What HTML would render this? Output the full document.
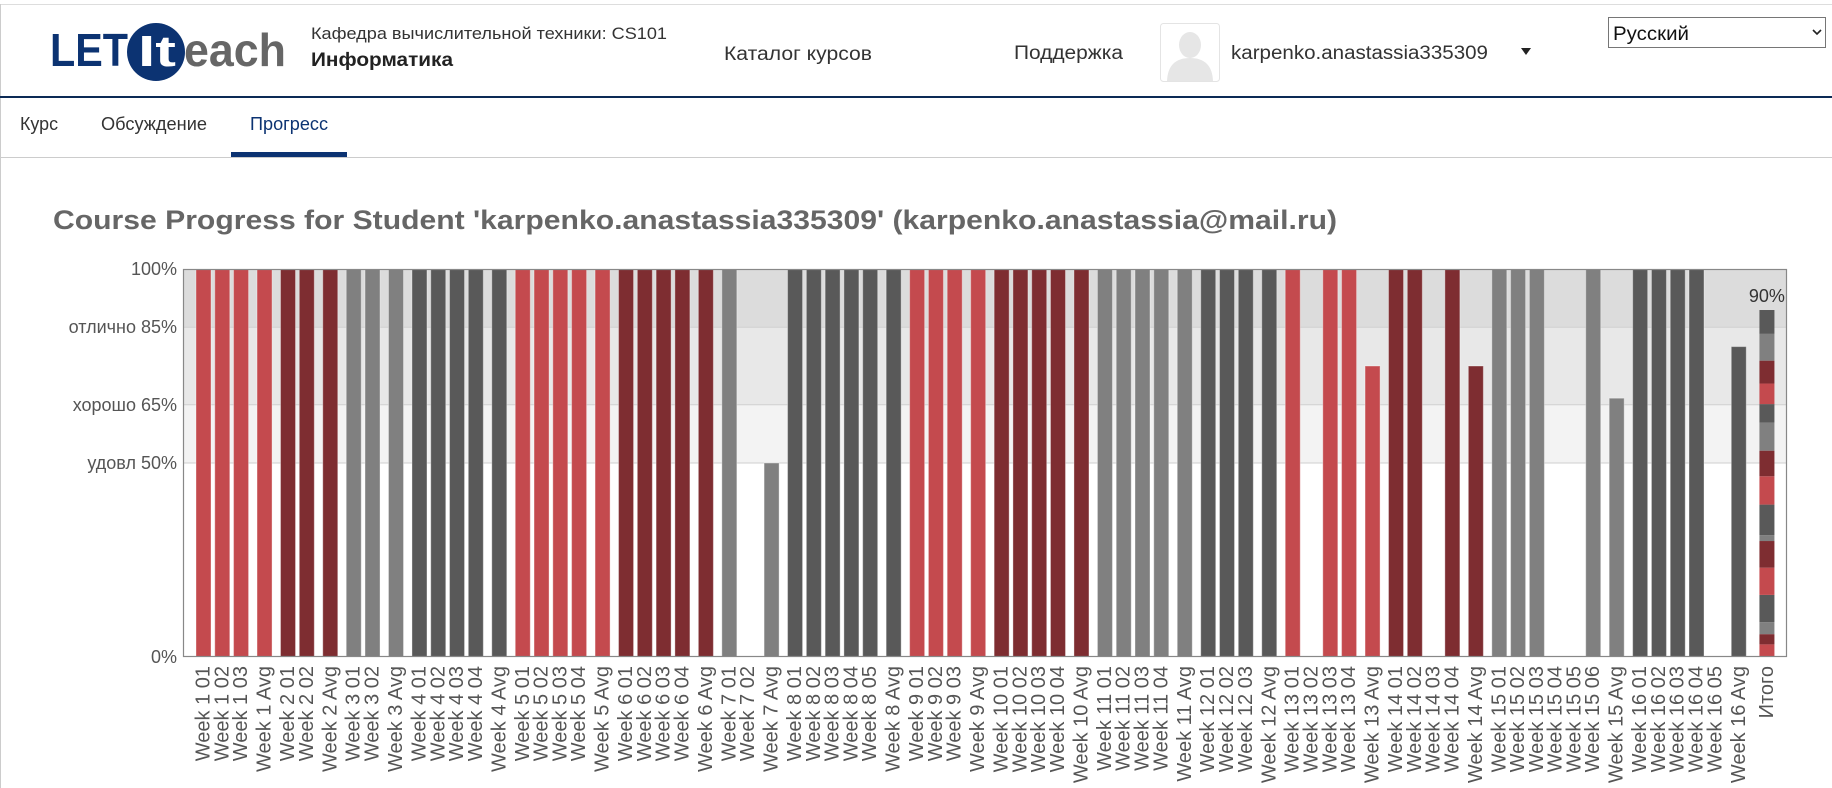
<!DOCTYPE html>
<html><head><meta charset="utf-8"><style>
html,body{margin:0;padding:0;background:#fff;width:1832px;height:788px;overflow:hidden}
svg{display:block;font-family:"Liberation Sans","Noto Sans CJK SC",sans-serif}
</style></head><body>
<svg id="s" width="1832" height="788" viewBox="0 0 1832 788" xmlns="http://www.w3.org/2000/svg">
<rect x="0" y="0" width="1832" height="788" fill="#fff"/>
<line x1="0" y1="4.5" x2="1832" y2="4.5" stroke="#ddd"/>
<line x1="0.5" y1="4" x2="0.5" y2="788" stroke="#ccc"/>
<g>
<text x="50" y="66" font-size="46" font-weight="bold" fill="#0c3372" textLength="78" lengthAdjust="spacingAndGlyphs">LET</text>
<circle cx="156" cy="52" r="29" fill="#0c3372"/>
<text x="138" y="66" font-size="44" font-weight="bold" fill="#fff" textLength="38" lengthAdjust="spacingAndGlyphs">It</text>
<text x="184" y="66" font-size="46" font-weight="bold" fill="#666" textLength="102" lengthAdjust="spacingAndGlyphs">each</text>
</g>
<text x="311" y="39" font-size="17" fill="#333" textLength="356" lengthAdjust="spacingAndGlyphs">Кафедра вычислительной техники: CS101</text>
<text x="311" y="66" font-size="19" font-weight="bold" fill="#222" textLength="142" lengthAdjust="spacingAndGlyphs">Информатика</text>
<text x="724" y="60" font-size="19" fill="#333" textLength="148" lengthAdjust="spacingAndGlyphs">Каталог курсов</text>
<text x="1014" y="59" font-size="19" fill="#333" textLength="109" lengthAdjust="spacingAndGlyphs">Поддержка</text>
<g>
<rect x="1160.5" y="23.5" width="59" height="58" rx="3" fill="#fff" stroke="#e4e4e4"/>
<ellipse cx="1190" cy="45" rx="11" ry="13" fill="#e6e6e6"/>
<path d="M1167 81 Q1168 58 1190 58 Q1212 58 1213 81 Z" fill="#e6e6e6"/>
</g>
<text x="1231" y="59" font-size="19" fill="#333" textLength="257" lengthAdjust="spacingAndGlyphs">karpenko.anastassia335309</text>
<path d="M1521 48 L1531 48 L1526 55 Z" fill="#222"/>
<g>
<rect x="1608.5" y="17.5" width="217" height="30" fill="#fff" stroke="#767676"/>
<text x="1613" y="40" font-size="19" fill="#111" textLength="76" lengthAdjust="spacingAndGlyphs">Русский</text>
<path d="M1813 30 L1817 34 L1821 30" fill="none" stroke="#222" stroke-width="1.6"/>
</g>
<rect x="0" y="96" width="1832" height="2" fill="#0c2a55"/>
<text x="20" y="130" font-size="18" fill="#333" textLength="38" lengthAdjust="spacingAndGlyphs">Курс</text>
<text x="101" y="130" font-size="18" fill="#333" textLength="106" lengthAdjust="spacingAndGlyphs">Обсуждение</text>
<text x="250" y="130" font-size="18" fill="#0c3372" textLength="78" lengthAdjust="spacingAndGlyphs">Прогресс</text>
<line x1="0" y1="157.5" x2="1832" y2="157.5" stroke="#ccc"/>
<rect x="231" y="152" width="116" height="5" fill="#0c3372"/>
<text x="53" y="229" font-size="27" font-weight="bold" fill="#666" textLength="1284" lengthAdjust="spacingAndGlyphs" style="font-weight:600">Course Progress for Student 'karpenko.anastassia335309' (karpenko.anastassia@mail.ru)</text>
<g id="chart"></g>
</svg>
<script>
const weeks = [1,1,1,1,2,2,2,3,3,3,4,4,4,4,4,5,5,5,5,5,6,6,6,6,6,7,7,7,8,8,8,8,8,8,9,9,9,9,10,10,10,10,10,11,11,11,11,11,12,12,12,12,13,13,13,13,13,14,14,14,14,14,15,15,15,15,15,15,15,16,16,16,16,16,16];
const itemNames = ["01","02","03","Avg","01","02","Avg","01","02","Avg","01","02","03","04","Avg","01","02","03","04","Avg","01","02","03","04","Avg","01","02","Avg","01","02","03","04","05","Avg","01","02","03","Avg","01","02","03","04","Avg","01","02","03","04","Avg","01","02","03","Avg","01","02","03","04","Avg","01","02","03","04","Avg","01","02","03","04","05","06","Avg","01","02","03","04","05","Avg"];
const scores = [100,100,100,100,100,100,100,100,100,100,100,100,100,100,100,100,100,100,100,100,100,100,100,100,100,100,0,50,100,100,100,100,100,100,100,100,100,100,100,100,100,100,100,100,100,100,100,100,100,100,100,100,100,0,100,100,75,100,100,0,100,75,100,100,100,0,0,100,66.7,100,100,100,100,0,80];
const totalSegments = [3.25,2.64,3.08,7.03,7.03,6.86,1.49,7.9,7.3,6.6,7.2,4.8,5.3,5.9,6.9,6.15];
const totalLabel = "90%";
const totalName = "Итого";
const yTicks = [100,85,65,50,0];
const yTickLabels = ["100%","отлично 85%","хорошо 65%","удовл 50%","0%"];
const weekColors = ["#c44a4e","#7e2d31","#808080","#595959"];

const NS="http://www.w3.org/2000/svg";
const g=document.getElementById('chart');
const L=183,R=1787,T=269,B=657;
const y=v=>B-(B-T)*v/100;
const unit=18.78, x0=203.5;
function mk(t,a,p){const e=document.createElementNS(NS,t);for(const k in a)e.setAttribute(k,a[k]);(p||g).appendChild(e);return e;}
[[100,85,"#dcdcdc"],[85,65,"#e8e8e8"],[65,50,"#f3f3f3"]].forEach(b=>{
 const r=mk('rect',{x:L,y:y(b[0]),width:R-L,height:y(b[1])-y(b[0]),fill:b[2]});
 
 
});
yTicks.forEach((v,i)=>{
 if(v>0&&v<100){const l=mk('line',{x1:L,x2:R,y1:y(v),y2:y(v),stroke:'#cfcfcf'});
 
 }
 const t=mk('text',{x:177,y:y(v)+6,'font-size':18,fill:'#555','text-anchor':'end'});
 t.textContent=yTickLabels[i];
 
 
});
const cx=[];let pos=x0;
for(let i=0;i<scores.length;i++){
 if(i>0){const prevAvg=itemNames[i-1]==="Avg",curAvg=itemNames[i]==="Avg";pos+=unit*((prevAvg||curAvg)?1.25:1);}
 cx.push(pos);
}
const totalX=pos+unit*1.5;
const bw=15;
const LY=666;
for(let i=0;i<scores.length;i++){
 const c=weekColors[(weeks[i]-1)%4];
 if(scores[i]>0){
  const r=mk('rect',{x:cx[i]-bw/2,y:y(scores[i]),width:bw,height:B-y(scores[i]),fill:c,stroke:'rgba(255,255,255,0.35)','stroke-width':1});
  
  
 }
 const lx=cx[i]+6,ly=LY;
 const t=mk('text',{x:lx,y:ly,'font-size':20,fill:'#555','text-anchor':'end',transform:'rotate(-90 '+lx+' '+ly+')'});
 t.textContent='Week '+weeks[i]+' '+itemNames[i];
 
 
}
let acc=0;
totalSegments.forEach((v,i)=>{
 const r=mk('rect',{x:totalX-bw/2,y:y(acc+v),width:bw,height:y(acc)-y(acc+v),fill:weekColors[i%4]});
 
 
 acc+=v;
});
const tl=mk('text',{x:totalX,y:y(acc)-8,'font-size':18,fill:'#333','text-anchor':'middle'});
tl.textContent=totalLabel;


{const lx=totalX+6,ly=LY;
 const t=mk('text',{x:lx,y:ly,'font-size':20,fill:'#555','text-anchor':'end',transform:'rotate(-90 '+lx+' '+ly+')'});
 t.textContent=totalName;
 
 }
const fr=mk('rect',{x:L+0.5,y:T+0.5,width:R-L-1,height:B-T-1,fill:'none',stroke:'#888','stroke-width':1.2});


</script>
</body></html>
